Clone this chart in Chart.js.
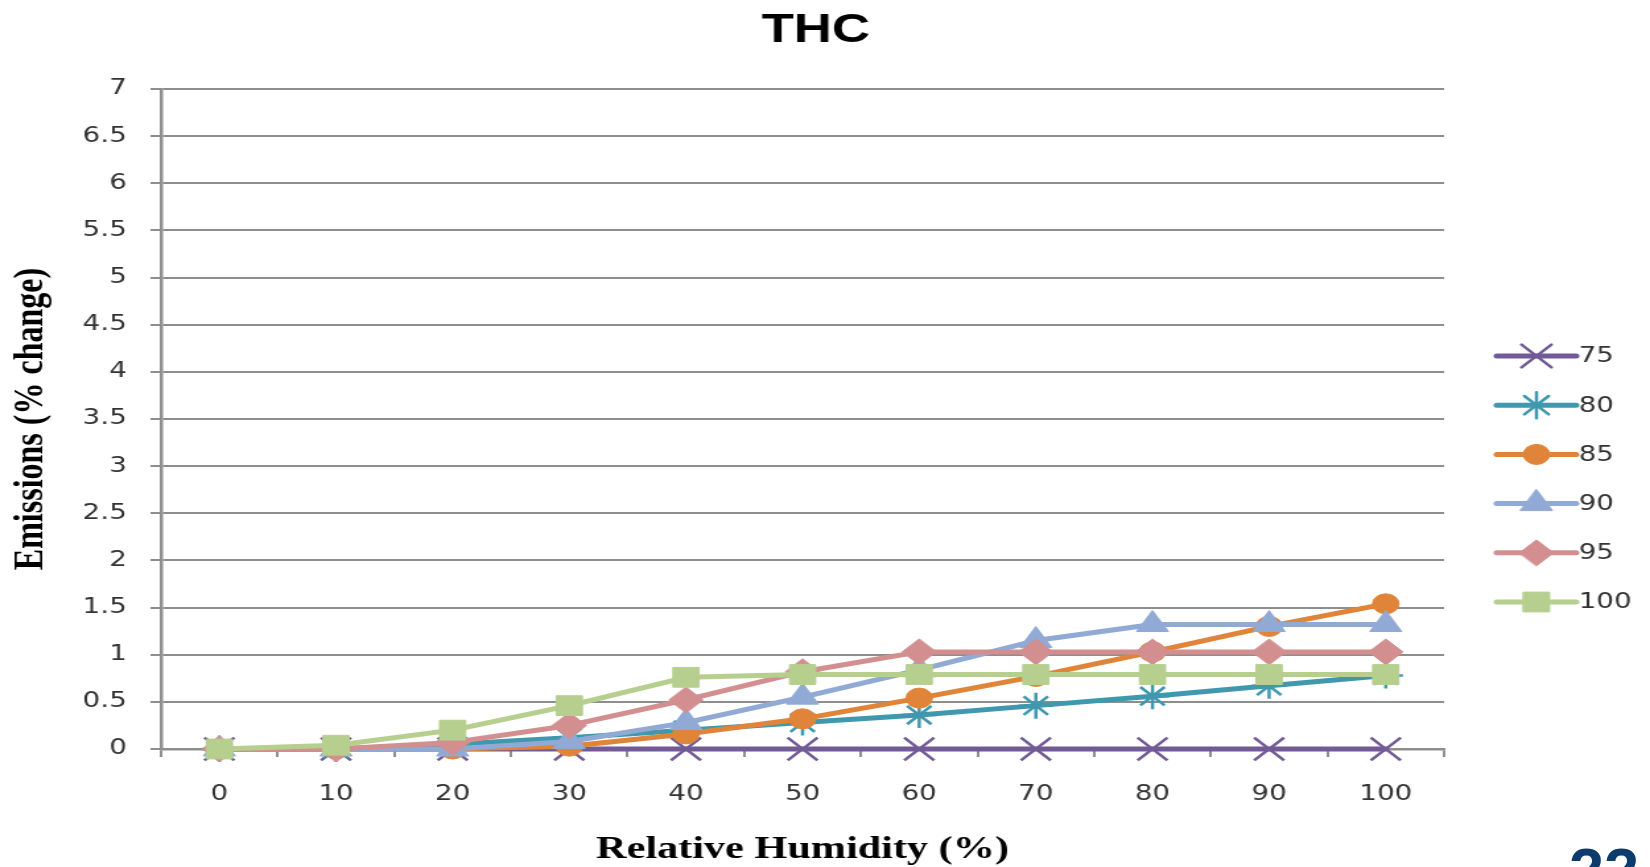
<!DOCTYPE html>
<html>
<head>
<meta charset="utf-8">
<title>THC</title>
<script src="https://cdn.jsdelivr.net/npm/chart.js@4.4.1/dist/chart.umd.min.js"></script>
<style>
  html, body { margin: 0; padding: 0; background: #fff; overflow: hidden; }
  #page { position: relative; width: 1650px; height: 867px; overflow: hidden; }
  /* the chart is drawn narrow and stretched sideways, like the slide picture */
  #wrap { position: absolute; left: 0; top: 0; width: 1250px; height: 867px; transform: scaleX(1.32); transform-origin: 0 0; }
  #slideNo { position: absolute; left: 1569px; top: 839px; font: bold 63px 'Liberation Sans', Arial, sans-serif; line-height: 1; color: #0c3b6c; }
</style>
</head>
<body>
<div id="page">
  <div id="wrap"><canvas id="thcChart" width="1250" height="867"></canvas></div>
  <div id="slideNo">22</div>
</div>
<script>
// relative humidity (%) on the x axis
const humidity = ['0', '10', '20', '30', '40', '50', '60', '70', '80', '90', '100'];
const seriesNames = ['75', '80', '85', '90', '95', '100'];

// THC emissions, % change
const thc75  = [0, 0, 0, 0, 0, 0, 0, 0, 0, 0, 0];
const thc80  = [0, 0, 0.05, 0.12, 0.2, 0.28, 0.36, 0.46, 0.56, 0.67, 0.78];
const thc85  = [0, 0, 0, 0.03, 0.16, 0.32, 0.54, 0.77, 1.03, 1.3, 1.54];
const thc90  = [0, 0, 0, 0.08, 0.28, 0.55, 0.84, 1.15, 1.32, 1.32, 1.32];
const thc95  = [0, 0, 0.07, 0.25, 0.52, 0.82, 1.03, 1.03, 1.03, 1.03, 1.03];
const thc100 = [0, 0.04, 0.2, 0.46, 0.76, 0.79, 0.79, 0.79, 0.79, 0.79, 0.79];

const seriesValues = [thc75, thc80, thc85, thc90, thc95, thc100];

const looks = [
  { color: '#725a96', pointStyle: 'crossRot', radius: 16, pointBorderWidth: 2.5 },
  { color: '#3f98ae', pointStyle: 'star',     radius: 13, pointBorderWidth: 2.5 },
  { color: '#e0843a', pointStyle: 'circle',   radius: 10, pointBorderWidth: 1 },
  { color: '#90aad5', pointStyle: 'triangle', radius: 14, pointBorderWidth: 1 },
  { color: '#d38f8f', pointStyle: 'rectRot',  radius: 13, pointBorderWidth: 1 },
  { color: '#b6cf8f', pointStyle: 'rect',     radius: 14, pointBorderWidth: 1 }
];

const gridColor = '#8e8e8e';
const tickFont = { family: "'DejaVu Sans', Verdana, sans-serif", size: 21 };

const datasets = seriesNames.map((name, i) => ({
  label: name,
  data: seriesValues[i],
  borderColor: looks[i].color,
  backgroundColor: looks[i].color,
  borderWidth: 5,
  borderJoinStyle: 'round',
  borderCapStyle: 'round',
  pointStyle: looks[i].pointStyle,
  pointRadius: looks[i].radius,
  pointBorderWidth: looks[i].pointBorderWidth,
  pointBorderColor: looks[i].color,
  pointBackgroundColor: looks[i].color,
  tension: 0,
  clip: false,
  order: seriesNames.length - 1 - i // later series sit on top
}));

// Excel style legend on the right: a short line with the marker in the middle
const sideLegend = {
  id: 'sideLegend',
  afterDraw(chart) {
    const ctx = chart.ctx;
    const x0 = chart.chartArea.right + 40;
    const x1 = x0 + 60;
    const top = 356, gap = 49.2;
    chart.data.datasets.forEach((ds, i) => {
      const y = top + i * gap;
      ctx.save();
      ctx.strokeStyle = ds.borderColor;
      ctx.fillStyle = ds.backgroundColor;
      ctx.lineWidth = 5;
      ctx.lineCap = 'round';
      ctx.beginPath();
      ctx.moveTo(x0, y);
      ctx.lineTo(x1, y);
      ctx.stroke();
      ctx.lineWidth = ds.pointBorderWidth;
      Chart.helpers.drawPoint(ctx, {
        pointStyle: ds.pointStyle,
        radius: ds.pointRadius,
        rotation: 0,
        borderWidth: ds.pointBorderWidth
      }, (x0 + x1) / 2, y);
      ctx.fillStyle = '#333';
      ctx.font = "21px 'DejaVu Sans', Verdana, sans-serif";
      ctx.textBaseline = 'middle';
      ctx.textAlign = 'left';
      ctx.fillText(ds.label, x1 + 2, y + 1);
      ctx.restore();
    });
  }
};

new Chart(document.getElementById('thcChart'), {
  type: 'line',
  data: { labels: humidity, datasets: datasets },
  options: {
    responsive: false,
    animation: false,
    events: [],
    layout: { padding: { left: 0, right: 14, top: 0, bottom: 0 } },
    plugins: {
      legend: { display: false },
      tooltip: { enabled: false },
      title: {
        display: true,
        text: 'THC',
        color: '#000',
        font: { family: "'Liberation Sans', Arial, sans-serif", size: 40, weight: 'bold' },
        padding: { top: 7, bottom: 34 }
      }
    },
    scales: {
      x: {
        type: 'category',
        offset: true,
        grid: { offset: true, drawOnChartArea: false, drawTicks: true, tickLength: 8, color: gridColor, lineWidth: 2 },
        border: { display: true, color: gridColor, width: 2.5 },
        ticks: { color: '#333', font: tickFont, padding: 25, maxRotation: 0 },
        title: {
          display: true,
          text: 'Relative Humidity (%)',
          color: '#000',
          font: { family: "'Liberation Serif', 'Times New Roman', serif", size: 32, weight: 'bold', lineHeight: 1.1 },
          padding: { top: 0, bottom: 0 }
        },
        afterFit(scale) { scale.height = 118; }
      },
      y: {
        min: 0,
        max: 7,
        ticks: { stepSize: 0.5, color: '#333', font: tickFont, padding: 18, callback: (v) => String(v) },
        grid: { color: gridColor, lineWidth: 2, tickLength: 8 },
        border: { display: true, color: gridColor, width: 2.5 },
        title: {
          display: true,
          text: 'Emissions (% change)',
          color: '#000',
          font: { family: "'Liberation Serif', 'Times New Roman', serif", size: 32, weight: 'bold' },
          padding: { top: 5, bottom: 0 }
        },
        afterFit(scale) { scale.width = 122; }
      },
      // empty axis that keeps room for the legend
      side: {
        type: 'linear',
        position: 'right',
        display: true,
        ticks: { display: false },
        grid: { display: false },
        border: { display: false },
        afterFit(scale) { scale.width = 142; }
      }
    }
  },
  plugins: [sideLegend]
});
</script>
</body>
</html>
